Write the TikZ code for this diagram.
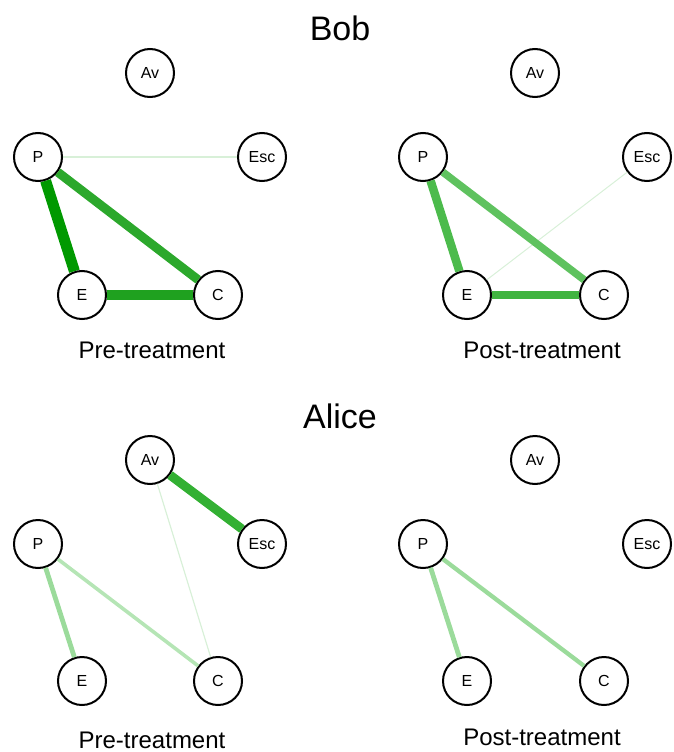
\documentclass[tikz,border=0pt]{standalone}
\usepackage{fontspec}
\setmainfont{Liberation Sans}

\definecolor{g1}{HTML}{009900}
\definecolor{g2}{HTML}{2CA82C}
\definecolor{g3}{HTML}{1FA11F}
\definecolor{g4}{HTML}{4CBB4C}
\definecolor{g5}{HTML}{5FC25F}
\definecolor{g6}{HTML}{40B440}
\definecolor{g7}{HTML}{33B033}
\definecolor{g8}{HTML}{9BDB9B}
\definecolor{g9}{HTML}{B5E5B5}
\definecolor{faint}{HTML}{D8F0D8}

\begin{document}
\begin{tikzpicture}[
    x=1pt, y=-1pt,
    vertex/.style={circle, draw, line width=2pt, fill=white, minimum size=48pt,
        inner sep=0pt, font=\fontsize{16}{18}\selectfont},
    heading/.style={font=\fontsize{34}{40}\selectfont},
    caption/.style={font=\fontsize{24}{28}\selectfont},
    link/.style={line width=#1}
]
\useasboundingbox (0,0) rectangle (673,752);

\node[heading] (T1) at (340,28) {Bob};
\node[heading] (T2) at (340,416) {Alice};

% Bob, pre-treatment
\begin{scope}[shift={(150,73)}]
\node[vertex] (1-Av) at (0,0) {Av};
\node[vertex] (1-P) at (-112,84) {P};
\node[vertex] (1-Esc) at (112,84) {Esc};
\node[vertex] (1-E) at (-68,222) {E};
\node[vertex] (1-C) at (68,222) {C};
\node[caption] (1-L) at (2,277) {Pre-treatment};
\draw[link=1.2pt, faint] (1-P) -- (1-Esc);
\draw[link=11pt, g1] (1-P) -- (1-E);
\draw[link=9pt, g2] (1-P) -- (1-C);
\draw[link=10pt, g3] (1-E) -- (1-C);
\end{scope}

% Bob, post-treatment
\begin{scope}[shift={(535,73)}]
\node[vertex] (2-Av) at (0,0) {Av};
\node[vertex] (2-P) at (-112,84) {P};
\node[vertex] (2-Esc) at (112,84) {Esc};
\node[vertex] (2-E) at (-68,222) {E};
\node[vertex] (2-C) at (69,222) {C};
\node[caption] (2-L) at (7,277) {Post-treatment};
\draw[link=1pt, faint] (2-E) -- (2-Esc);
\draw[link=8.5pt, g4] (2-P) -- (2-E);
\draw[link=7.5pt, g5] (2-P) -- (2-C);
\draw[link=8.5pt, g6] (2-E) -- (2-C);
\end{scope}

% Alice, pre-treatment
\begin{scope}[shift={(150,460)}]
\node[vertex] (3-Av) at (0,0) {Av};
\node[vertex] (3-P) at (-112,84) {P};
\node[vertex] (3-Esc) at (112,84) {Esc};
\node[vertex] (3-E) at (-68,221) {E};
\node[vertex] (3-C) at (68,221) {C};
\node[caption] (3-L) at (2,280) {Pre-treatment};
\draw[link=1.2pt, faint] (3-Av) -- (3-C);
\draw[link=9pt, g7] (3-Av) -- (3-Esc);
\draw[link=4.8pt, g8] (3-P) -- (3-E);
\draw[link=3.6pt, g9] (3-P) -- (3-C);
\end{scope}

% Alice, post-treatment
\begin{scope}[shift={(535,460)}]
\node[vertex] (4-Av) at (0,0) {Av};
\node[vertex] (4-P) at (-112,84) {P};
\node[vertex] (4-Esc) at (112,84) {Esc};
\node[vertex] (4-E) at (-68,221) {E};
\node[vertex] (4-C) at (69,221) {C};
\node[caption] (4-L) at (7,277) {Post-treatment};
\draw[link=4.8pt, g8] (4-P) -- (4-E);
\draw[link=4.3pt, g8] (4-P) -- (4-C);
\end{scope}

\end{tikzpicture}
\end{document}
